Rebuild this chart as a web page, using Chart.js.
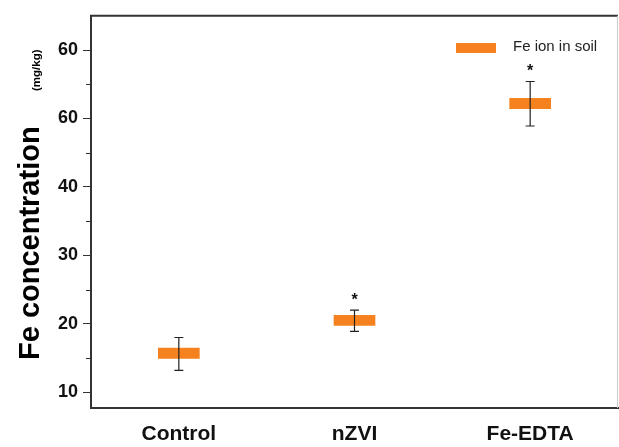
<!DOCTYPE html>
<html>
<head>
<meta charset="utf-8">
<script src="https://cdn.jsdelivr.net/npm/chart.js@4"></script>
<style>
  html, body { margin: 0; padding: 0; background: #fff; }
  #wrap { width: 619px; height: 447px; }
</style>
</head>
<body>
<div id="wrap"><canvas id="graph" width="619" height="447"></canvas></div>
<script>
const categories = ['Control', 'nZVI', 'Fe-EDTA'];
const means = [15.7, 20.5, 52.2];
const errUpper = [18.0, 22.0, 55.4];
const errLower = [13.2, 18.9, 48.9];
const marks = ['', '*', '*'];
const yTickValues = [10, 20, 30, 40, 50, 60];
const yTickLabels = ['10', '20', '30', '40', '60', '60'];
const minorTicks = [15, 25, 35, 45, 55];
const seriesLabel = 'Fe ion in soil';

const orange = '#F5821F';
const halfBar = 0.75;

const extras = {
  id: 'extras',
  afterDatasetsDraw(chart) {
    const ctx = chart.ctx;
    const x = chart.scales.x;
    const y = chart.scales.y;
    const area = chart.chartArea;

    ctx.save();
    // error bars
    ctx.strokeStyle = '#222';
    ctx.lineWidth = 1.2;
    categories.forEach((c, i) => {
      const px = x.getPixelForValue(i);
      const top = y.getPixelForValue(errUpper[i]);
      const bot = y.getPixelForValue(errLower[i]);
      ctx.beginPath();
      ctx.moveTo(px, top); ctx.lineTo(px, bot);
      ctx.moveTo(px - 4.5, top); ctx.lineTo(px + 4.5, top);
      ctx.moveTo(px - 4.5, bot); ctx.lineTo(px + 4.5, bot);
      ctx.stroke();
      if (marks[i]) {
        ctx.fillStyle = '#111';
        ctx.font = 'bold 16px Arial';
        ctx.textAlign = 'center';
        ctx.textBaseline = 'middle';
        ctx.fillText(marks[i], px, top - 10);
      }
    });

    // minor ticks
    ctx.strokeStyle = '#333';
    ctx.lineWidth = 1;
    minorTicks.forEach(v => {
      const py = Math.round(y.getPixelForValue(v)) + 0.5;
      ctx.beginPath();
      ctx.moveTo(area.left - 5, py); ctx.lineTo(area.left, py);
      ctx.stroke();
    });

    // top and right frame
    ctx.strokeStyle = '#333';
    ctx.lineWidth = 2;
    ctx.beginPath();
    ctx.moveTo(area.left - 1, area.top); ctx.lineTo(area.right, area.top);
    ctx.stroke();
    ctx.strokeStyle = '#ccc';
    ctx.lineWidth = 1;
    ctx.beginPath();
    ctx.moveTo(area.right - 0.5, area.top); ctx.lineTo(area.right - 0.5, area.bottom);
    ctx.stroke();

    // legend
    ctx.fillStyle = orange;
    ctx.fillRect(456, 43, 40, 10);
    ctx.fillStyle = '#222';
    ctx.font = '15px Arial';
    ctx.textAlign = 'left';
    ctx.textBaseline = 'middle';
    ctx.fillText(seriesLabel, 513, 47);

    // y title
    ctx.translate(39, 360);
    ctx.rotate(-Math.PI / 2);
    ctx.fillStyle = '#000';
    ctx.textBaseline = 'alphabetic';
    ctx.font = 'bold 29px Arial';
    ctx.fillText('Fe concentration', 0, 0);
    ctx.font = 'bold 11.5px Arial';
    ctx.fillText('(mg/kg)', 269, 1);
    ctx.restore();
  }
};

new Chart(document.getElementById('graph').getContext('2d'), {
  type: 'bar',
  data: {
    labels: categories,
    datasets: [{
      label: seriesLabel,
      data: means.map(m => [m - halfBar, m + halfBar]),
      backgroundColor: orange,
      borderWidth: 0,
      barThickness: 41
    }]
  },
  plugins: [extras],
  options: {
    responsive: false,
    animation: false,
    layout: { padding: { top: 12, right: 1, left: 0, bottom: 0 } },
    plugins: {
      legend: { display: false },
      tooltip: { enabled: false }
    },
    scales: {
      x: {
        grid: { display: false, drawTicks: false },
        border: { display: true, color: '#333', width: 2 },
        ticks: {
          color: '#111',
          font: { family: 'Arial', size: 21, weight: 'bold' },
          padding: 14
        },
        afterFit(s) { s.height = 39; }
      },
      y: {
        min: 7.7,
        max: 65,
        afterBuildTicks(s) { s.ticks = yTickValues.map(v => ({ value: v })); },
        grid: { drawOnChartArea: false, tickLength: 8, tickColor: '#333', tickWidth: 1 },
        border: { display: true, color: '#333', width: 2 },
        ticks: {
          color: '#111',
          font: { family: 'Arial', size: 18, weight: 'bold' },
          padding: 5,
          callback(v) {
            const i = yTickValues.indexOf(v);
            return i >= 0 ? yTickLabels[i] : '';
          }
        },
        afterFit(s) { s.width = 91; }
      }
    }
  }
});
</script>
</body>
</html>
